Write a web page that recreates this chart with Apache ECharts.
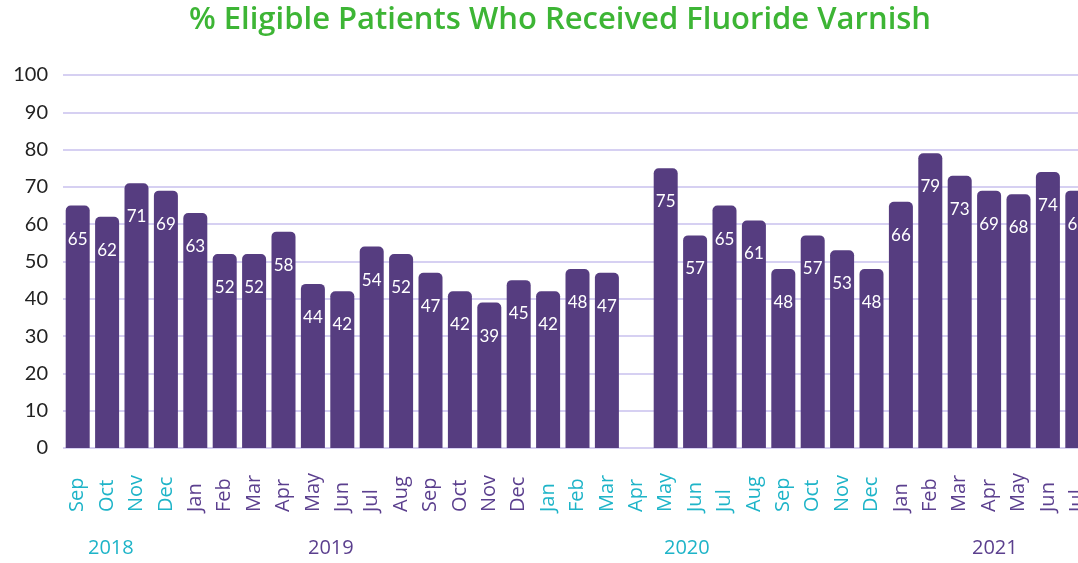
<!DOCTYPE html>
<html>
<head>
<meta charset="utf-8">
<script src="https://cdn.jsdelivr.net/npm/echarts@6/dist/echarts.min.js"></script>
<style>
html,body{margin:0;padding:0;overflow:hidden;background:#fff;}
#main{width:1100px;height:563px;position:absolute;left:0;top:0;}
</style>
</head>
<body>
<div id="main"></div>
<script>
// months Sep 2018 .. Jul 2021
const months = ['Sep','Oct','Nov','Dec',
  'Jan','Feb','Mar','Apr','May','Jun','Jul','Aug','Sep','Oct','Nov','Dec',
  'Jan','Feb','Mar','Apr','May','Jun','Jul','Aug','Sep','Oct','Nov','Dec',
  'Jan','Feb','Mar','Apr','May','Jun','Jul'];
const yearOf = [2018,2018,2018,2018,
  2019,2019,2019,2019,2019,2019,2019,2019,2019,2019,2019,2019,
  2020,2020,2020,2020,2020,2020,2020,2020,2020,2020,2020,2020,
  2021,2021,2021,2021,2021,2021,2021];
const pctVarnish = [65,62,71,69,
  63,52,52,58,44,42,54,52,47,42,39,45,
  42,48,47,null,75,57,65,61,48,57,53,48,
  66,79,73,69,68,74,69];
const years = ['2018','2019','2020','2021'];
const yearX = [112,332,688,996];
const yTicks = [0,100,10];

const teal = '#1eb4c8', purple = '#5b3f8e';
const yearColor = {2018: teal, 2019: purple, 2020: teal, 2021: purple};

let myChart = echarts.init(document.getElementById('main'));
const options = {
  title: {
    text: '% Eligible Patients Who Received Fluoride Varnish',
    left: 555, top: 0, textAlign: 'center',
    textStyle: {color: '#3db535', fontSize: 31, fontWeight: 600, fontFamily: 'Open Sans'}
  },
  grid: {left: 63, right: 8, top: 75, bottom: 115},
  xAxis: {
    type: 'category',
    data: months,
    axisLine: {show: false},
    axisTick: {show: false},
    axisLabel: {
      rotate: 90, interval: 0, margin: 64, align: 'left', verticalAlign: 'middle',
      fontSize: 20, fontFamily: 'Open Sans',
      color: (v, i) => yearColor[yearOf[i]]
    }
  },
  yAxis: {
    type: 'value',
    min: yTicks[0], max: yTicks[1], interval: yTicks[2],
    axisLabel: {color: '#222', fontSize: 20, fontFamily: 'Lato', margin: 15},
    splitLine: {lineStyle: {color: '#d6d0f2', width: 2}}
  },
  series: [{
    type: 'bar',
    data: pctVarnish,
    barWidth: 24,
    itemStyle: {color: '#563d80', borderRadius: [5,5,0,0]},
    label: {
      show: true, position: 'insideTop', distance: 25,
      color: '#fff', fontSize: 17, fontFamily: 'Lato'
    }
  }],
  graphic: years.map((y, i) => ({
    type: 'text', left: yearX[i] - 24, top: 538,
    style: {text: y, fill: yearColor[y], fontSize: 20, fontFamily: 'Open Sans'}
  }))
};
myChart.setOption(options);
</script>
</body>
</html>
